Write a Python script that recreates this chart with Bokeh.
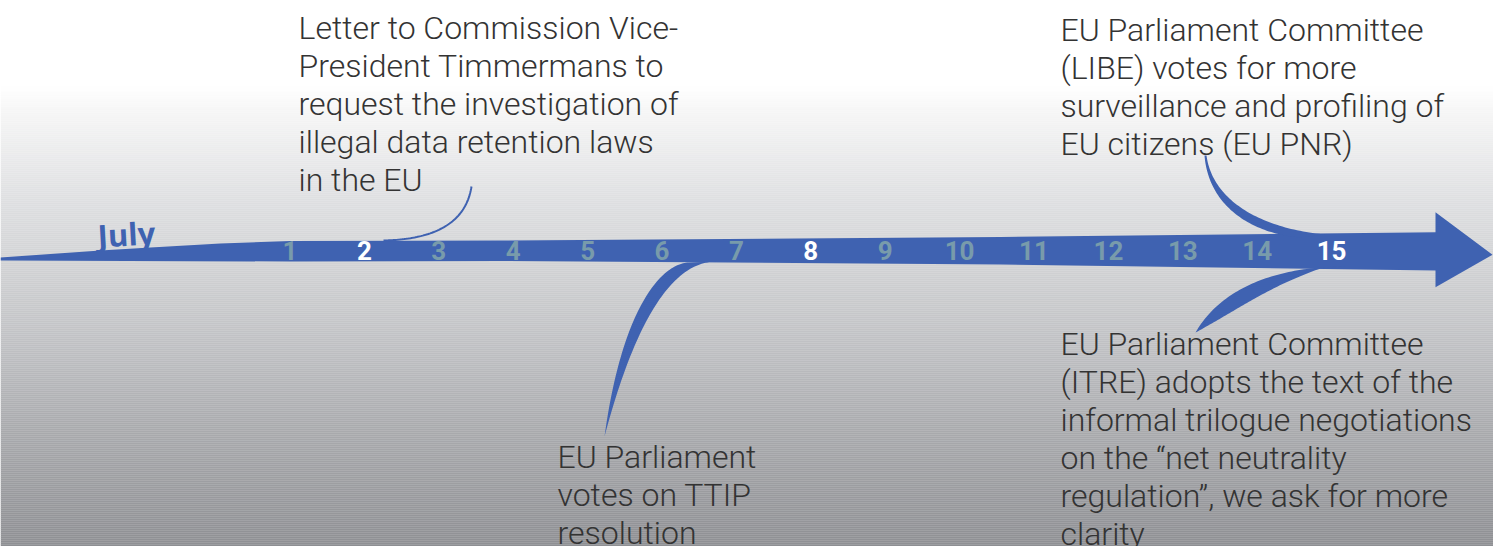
import numpy as np
from bokeh.plotting import figure
from bokeh.models import Range1d
from bokeh.core.properties import value
from bokeh.embed import file_html
from bokeh.resources import INLINE

# ---------------- data ----------------
month_label = "July"
days = list(range(1, 16))
highlight_days = [2, 8, 15]

letter_lines = ["Letter to Commission Vice-",
                "President Timmermans to",
                "request the investigation of",
                "illegal data retention laws",
                "in the EU"]
ttip_lines = ["EU Parliament",
              "votes on TTIP",
              "resolution"]
libe_lines = ["EU Parliament Committee",
              "(LIBE) votes for more",
              "surveillance and profiling of",
              "EU citizens (EU PNR)"]
itre_lines = ["EU Parliament Committee",
              "(ITRE) adopts the text of the",
              "informal trilogue negotiations",
              "on the \u201cnet neutrality",
              "regulation\u201d, we ask for more",
              "clarity"]

# ---------------- layout helpers (reference pixel -> data) ----------------
X0, PX_PER_DAY = 810.3, 74.4
def fx(X):
    return 8 + (np.asarray(X, dtype=float) - X0) / PX_PER_DAY
def fy(Y):
    return 546 - np.asarray(Y, dtype=float)

def cubic(p0, p1, p2, p3, n=60):
    t = np.linspace(0, 1, n)[:, None]
    pts = ((1-t)**3)*np.array(p0) + 3*t*(1-t)**2*np.array(p1) + 3*t**2*(1-t)*np.array(p2) + t**3*np.array(p3)
    return pts[:, 0], pts[:, 1]

BLUE = "#3f62b1"
TEXT = "#333333"
DAY_COL = "#789bab"
TEXT_FONT = value("Roboto Light, Roboto")

p = figure(width=1493, height=546,
           x_range=Range1d(float(fx(0)), float(fx(1493))),
           y_range=Range1d(0, 546),
           output_backend="svg", toolbar_location=None, min_border=0,
           x_axis_location=None, y_axis_location=None)
p.grid.visible = False
p.outline_line_color = None
p.border_fill_color = "white"

# ---------------- background gradient ----------------
stopsY = [0, 85, 110, 200, 270, 350, 430, 546]
stopsC = [(255, 255, 255), (255, 255, 255), (246, 246, 246), (222, 223, 225),
          (208, 209, 211), (190, 191, 194), (169, 170, 173), (142, 143, 147)]
ys = np.arange(0, 546, 2)
cols = []
for yv in ys + 1:
    c = [np.interp(yv, stopsY, [s[k] for s in stopsC]) for k in range(3)]
    cols.append("#%02x%02x%02x" % tuple(int(round(v)) for v in c))
p.quad(left=float(fx(0)), right=float(fx(1493)), top=fy(ys), bottom=fy(ys + 2.2),
       fill_color=cols, line_color=None)

# ---------------- arrow ----------------
arrow_X = [0, 100, 150, 220, 290, 500, 1000, 1435, 1435, 1492, 1435, 1435, 1000, 500, 290, 0]
arrow_Y = [257, 250, 247, 243, 240.5, 240, 236.5, 231.7, 211.7, 254.3, 286.7, 270, 264, 260.5, 261, 260]
p.patch(fx(arrow_X), fy(arrow_Y), fill_color=BLUE, line_color=None)

# ---------------- connectors ----------------
cx, cy = cubic((383, 240), (430, 239), (465, 225), (471, 186))
p.line(fx(cx), fy(cy), line_color=BLUE, line_width=2)

def horn(outer, inner):
    ox, oy = cubic(*outer)
    ix, iy = cubic(*inner)
    xs = np.concatenate([ox, ix[::-1]])
    ys_ = np.concatenate([oy, iy[::-1]])
    p.patch(fx(xs), fy(ys_), fill_color=BLUE, line_color=None)

# TTIP
horn(((716, 261), (680, 261), (640, 300), (604, 436)),
     ((688, 262), (662, 263), (622, 305), (604, 436)))
# LIBE
horn(((1206, 155), (1212, 200), (1260, 228), (1325, 234)),
     ((1204, 155), (1208, 205), (1250, 233), (1300, 237)))
# ITRE
horn(((1345, 266), (1280, 266), (1222, 285), (1195, 332)),
     ((1320, 268), (1268, 286), (1236, 310), (1195, 332)))

# ---------------- day labels ----------------
day_colors = ["white" if d in highlight_days else DAY_COL for d in days]
p.text(x=days, y=[float(fy(250))]*len(days), text=[str(d) for d in days],
       text_color=day_colors, text_font=value("Roboto"), text_font_style="bold",
       text_font_size="26px", text_align="center", text_baseline="alphabetic")

# month label
p.text(x=[float(fx(97))], y=[float(fy(235))], text=[month_label], angle=0.055,
       text_color=BLUE, text_font=value("Open Sans"), text_font_style="bold",
       text_font_size="31px", text_align="left", text_baseline="alphabetic")

# ---------------- event texts ----------------
def block(lines, X, first_baseline, pitch=38):
    p.text(x=[float(fx(X))]*len(lines),
           y=[float(fy(first_baseline + i*pitch)) for i in range(len(lines))],
           text=lines, text_color=TEXT, text_font=TEXT_FONT,
           text_font_size="32px", text_align="left", text_baseline="alphabetic")

block(letter_lines, 298, 27)
block(ttip_lines, 557, 456)
block(libe_lines, 1060, 29)
block(itre_lines, 1060, 343)

open("out.html", "w").write(file_html(p, INLINE))
